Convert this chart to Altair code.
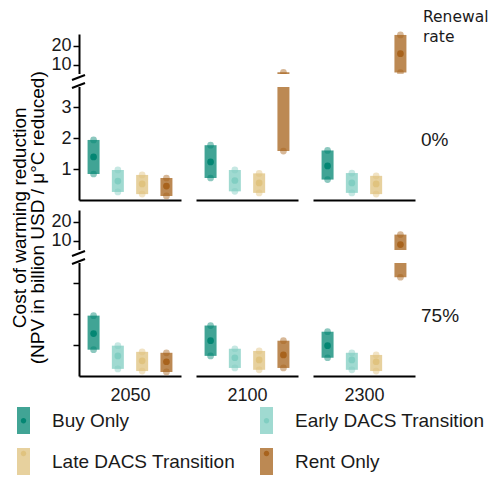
import altair as alt
import pandas as pd

# ---------------- data ----------------
series = ["Buy Only", "Early DACS Transition", "Late DACS Transition", "Rent Only"]
years = ["2050", "2100", "2300"]
rates = ["0%", "75%"]

# values ordered year by year, series within year
lo_0 = [0.84, 0.26, 0.19, 0.13, 0.71, 0.28, 0.23, 1.58, 0.66, 0.23, 0.19, 5.8]
mid_0 = [1.39, 0.61, 0.52, 0.45, 1.23, 0.63, 0.55, 4.2, 1.10, 0.55, 0.52, 15.8]
hi_0 = [1.94, 0.97, 0.81, 0.71, 1.77, 0.97, 0.86, 5.9, 1.60, 0.87, 0.78, 25.8]

lo_75 = [0.85, 0.23, 0.16, 0.13, 0.65, 0.26, 0.20, 0.26, 0.59, 0.20, 0.16, 3.19]
mid_75 = [1.37, 0.65, 0.49, 0.46, 1.14, 0.59, 0.52, 0.68, 0.98, 0.52, 0.46, 7.9]
hi_75 = [1.95, 0.98, 0.78, 0.75, 1.63, 0.88, 0.81, 1.14, 1.43, 0.75, 0.68, 13.2]

y_ticks = [1, 2, 3, 10, 20]
colors = ["#018571", "#80cdc1", "#dfc27d", "#a6611a"]

rows = []
for r, (lo, mid, hi) in zip(rates, [(lo_0, mid_0, hi_0), (lo_75, mid_75, hi_75)]):
    i = 0
    for yr in years:
        for s in series:
            rows.append(dict(rate=r, year=yr, series=s, lo=lo[i], mid=mid[i], hi=hi[i]))
            i += 1
df = pd.DataFrame(rows)

# ---------------- layout constants ----------------
W = 102          # panel width
H = 166          # panel height (upper 40 + gap 13 + lower 113)
GAP_LO, GAP_HI = 3.65, 5.0
FONT = "Liberation Sans"

y_scale = alt.Scale(domain=[0, GAP_LO, GAP_HI, 26.3], range=[H, H - 113, H - 126, 0],
                    nice=False, zero=False)
x_scale = alt.Scale(type="point", padding=0.6, domain=series)
color_scale = alt.Scale(range=colors)
fill_scale = alt.Scale(range=colors)

LX, LY = -69, 373
leg_rect = alt.Legend(
    title=None, orient="none", legendX=LX, legendY=LY, columns=2, direction="horizontal",
    symbolType="M-0.48,-1L0.48,-1L0.48,1L-0.48,1Z", symbolSize=729,
    symbolOpacity=0.75, symbolStrokeWidth=0,
    labelFont=FONT, labelFontSize=19, labelColor="#1a1a1a", labelOffset=15,
    labelLimit=300, columnPadding=17, rowPadding=14, padding=0,
)
leg_dot = alt.Legend(
    title=None, orient="none", legendX=LX, legendY=LY, columns=2, direction="horizontal",
    symbolType="M0.2,0A0.2,0.2,0,1,1,-0.2,0A0.2,0.2,0,1,1,0.2,0Z", symbolSize=729,
    symbolOpacity=0.95, symbolStrokeWidth=0,
    labelExpr="''", labelOffset=15,
    columnPadding=201, rowPadding=14, padding=0,
)


def panel(ri, yi):
    r, yr = rates[ri], years[yi]
    base = alt.Chart(df).transform_filter(
        (alt.datum.rate == r) & (alt.datum.year == yr)
    )
    if yi == 0:
        yaxis = alt.Axis(
            values=y_ticks, title=None, grid=False, zindex=0,
            domainColor="black", domainWidth=2, tickColor="black", tickWidth=1.5,
            tickSize=6, labelFont=FONT, labelFontSize=18, labelColor="#1a1a1a",
            labelPadding=2,
            labelExpr=("datum.value >= 10 ? datum.label : ''" if ri == 1 else "datum.label"),
        )
    else:
        yaxis = None
    xaxis = alt.Axis(
        title=(yr if ri == 1 else None), labels=False, ticks=False, grid=False,
        domain=True, domainColor="black", domainWidth=2,
        titleFont=FONT, titleFontSize=18, titleFontWeight="normal",
        titleColor="#1a1a1a", titlePadding=10,
    )
    X = alt.X("series:N", scale=x_scale, axis=xaxis)

    bars = base.mark_bar(size=12, opacity=0.75).encode(
        x=X,
        y=alt.Y("lo:Q", scale=y_scale, axis=yaxis),
        y2="hi:Q",
        color=alt.Color("series:N", scale=color_scale, legend=leg_rect),
    )
    ends = base.transform_fold(["lo", "hi"], as_=["end", "val"]).mark_point(
        filled=True, size=45, opacity=0.45, shape="circle", strokeWidth=0
    ).encode(
        x=X,
        y=alt.Y("val:Q", scale=y_scale, axis=yaxis),
        color=alt.Color("series:N", scale=color_scale, legend=None),
    )
    med = base.transform_calculate(series_b="datum.series").mark_point(
        filled=True, size=45, opacity=0.95, shape="circle", strokeWidth=0
    ).encode(
        x=X,
        y=alt.Y("mid:Q", scale=y_scale, axis=yaxis),
        fill=alt.Fill("series_b:N", scale=fill_scale, legend=leg_dot),
    )
    gap = alt.Chart(alt.Data(values=[{}])).mark_rect(color="white").encode(
        x=alt.value(-4), x2=alt.value(W),
        y=alt.Y(datum=GAP_LO, scale=y_scale, axis=yaxis),
        y2=alt.Y2(datum=GAP_HI),
    )
    layers = [bars, ends, med, gap]
    if yi == 0:
        sl1 = alt.Chart(alt.Data(values=[{}])).mark_rule(color="black", strokeWidth=2).encode(
            x=alt.value(-7), x2=alt.value(6), y=alt.value(46), y2=alt.value(41))
        sl2 = alt.Chart(alt.Data(values=[{}])).mark_rule(color="black", strokeWidth=2).encode(
            x=alt.value(-7), x2=alt.value(6), y=alt.value(54), y2=alt.value(49))
        layers += [sl1, sl2]
    return alt.layer(*layers).properties(width=W, height=H)


def row_title(txt, dy):
    return alt.TitleParams(
        txt, orient="right", anchor="middle", angle=0, align="right",
        baseline="middle", offset=6, dy=dy, font=FONT, fontSize=19,
        fontWeight="normal", color="#1a1a1a",
    )


row0 = alt.hconcat(*[panel(0, i) for i in range(3)], spacing=11).properties(
    title=row_title("0%", 24))
row1 = alt.hconcat(*[panel(1, i) for i in range(3)], spacing=11).properties(
    title=row_title("75%", 9))

grid = alt.vconcat(row0, row1, spacing=10).properties(
    title=alt.TitleParams(
        ["Cost of warming reduction", "(NPV in billion USD / \u03bc\u00b0C reduced)"],
        orient="left", anchor="middle", font=FONT, fontSize=19,
        fontWeight="normal", color="black", lineHeight=18, offset=3,
    )
)

chart = alt.vconcat(grid).properties(
    title=alt.TitleParams(
        ["Renewal", "rate"], orient="top", anchor="start", align="left",
        dx=413, offset=-14, font="DejaVu Sans", fontSize=15.5,
        fontWeight="normal", color="#1a1a1a", lineHeight=20,
    ),
    padding={"left": 2, "top": 2, "right": 0, "bottom": 0},
).configure_view(stroke=None)

chart.save("out.html", embed_options={"renderer": "svg", "actions": False})
